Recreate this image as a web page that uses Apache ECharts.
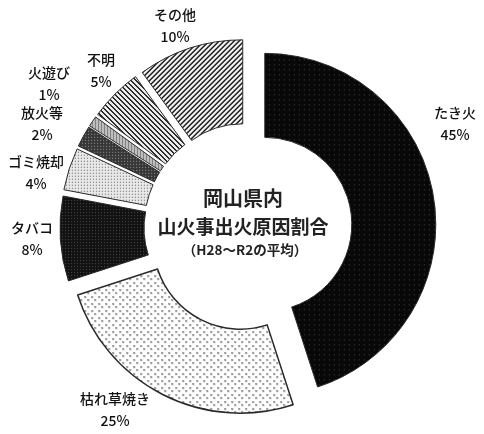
<!DOCTYPE html>
<html>
<head>
<meta charset="utf-8">
<script src="https://cdn.jsdelivr.net/npm/echarts@6/dist/echarts.min.js"></script>
<style>
html,body{margin:0;padding:0;background:#fff;}
#chart{width:484px;height:434px;}
</style>
</head>
<body>
<div id="chart"></div>
<script>
// ---- data ----
const categories = ['たき火', '枯れ草焼き', 'タバコ', 'ゴミ焼却', '放火等', '火遊び', '不明', 'その他'];
const values = [45, 25, 8, 4, 2, 1, 5, 10];
const titleLines = ['岡山県内', '山火事出火原因割合', '（H28～R2の平均）'];

// ---- label placement (text anchor positions, centre of each 2-line block) ----
const labelPos = [[455, 124], [115, 410], [32, 239], [36, 173], [42, 124], [49, 84], [101, 71], [175, 26]];

// ---- patterns ----
function makePattern(size, fn) {
  const c = document.createElement('canvas');
  c.width = size; c.height = size;
  const ctx = c.getContext('2d');
  const img = ctx.createImageData(size, size);
  for (let y = 0; y < size; y++) {
    for (let x = 0; x < size; x++) {
      const v = fn(x, y);
      const i = (y * size + x) * 4;
      img.data[i] = v; img.data[i + 1] = v; img.data[i + 2] = v; img.data[i + 3] = 255;
    }
  }
  ctx.putImageData(img, 0, 0);
  return { image: c, repeat: 'repeat' };
}
const patterns = [
  // たき火: black with faint dots
  makePattern(5, (x, y) => (x === 2 && y === 2) ? 70 : 8),
  // 枯れ草焼き: white with grey staggered dots
  makePattern(7, (x, y) => {
    if ((x === 1 || x === 2) && (y === 1 || y === 2)) return (x === 1 && y === 1) ? 95 : 160;
    if ((x === 4 || x === 5) && (y === 4 || y === 5)) return (x === 4 && y === 4) ? 95 : 160;
    return 255;
  }),
  // タバコ: very dark fine dots
  makePattern(3, (x, y) => (x === 1 && y === 1) ? 75 : 18),
  // ゴミ焼却: light fine checker
  makePattern(3, (x, y) => (x === 1 && y === 1) ? 100 : 232),
  // 放火等: dark grey crosshatch
  makePattern(3, (x, y) => (x === 1 && y === 1) ? 150 : 55),
  // 火遊び: light grey
  makePattern(3, (x, y) => (x === 1) ? 130 : 190),
  // 不明: "\" stripes
  makePattern(5, (x, y) => ((x - y + 10) % 5 < 2) ? 45 : 235),
  // その他: "/" stripes
  makePattern(5, (x, y) => ((x + y) % 5 < 2) ? 20 : 245)
];

const chart = echarts.init(document.getElementById('chart'), null, { renderer: 'canvas' });

const cx = 248, cy = 227;

const labelFont = '500 14px "Noto Sans CJK JP"';
const labelGraphics = categories.map((name, i) => ({
  type: 'text',
  x: labelPos[i][0],
  y: labelPos[i][1],
  style: {
    text: name + '\n' + values[i] + '%',
    font: labelFont,
    lineHeight: 22,
    fill: '#111',
    textAlign: 'center',
    textVerticalAlign: 'middle'
  }
}));

chart.setOption({
  animation: false,
  backgroundColor: '#ffffff',
  series: [{
    type: 'pie',
    center: [cx, cy],
    radius: [87, 171],
    startAngle: 90,
    clockwise: true,
    selectedMode: 'multiple',
    selectedOffset: 17,
    avoidLabelOverlap: false,
    emphasis: { disabled: true },
    itemStyle: { borderColor: '#222', borderWidth: 1 },
    select: { itemStyle: { borderColor: '#222', borderWidth: 1 } },
    label: { show: false },
    labelLine: { show: false },
    data: categories.map((name, i) => ({
      name: name,
      value: values[i],
      selected: true,
      itemStyle: { color: patterns[i], borderWidth: i === 1 ? 1.5 : 1, borderColor: '#2a2a2a' },
      select: { itemStyle: { color: patterns[i], borderWidth: i === 1 ? 1.5 : 1, borderColor: '#2a2a2a' } }
    }))
  }],
  graphic: labelGraphics.concat([
    { type: 'text', x: 243, y: 198, style: { text: titleLines[0], font: 'bold 20px "Noto Sans CJK JP"', fill: '#222', textAlign: 'center', textVerticalAlign: 'middle' } },
    { type: 'text', x: 243, y: 227, style: { text: titleLines[1], font: 'bold 19px "Noto Sans CJK JP"', fill: '#222', textAlign: 'center', textVerticalAlign: 'middle' } },
    { type: 'text', x: 245, y: 250, style: { text: titleLines[2], font: 'bold 13.5px "Noto Sans CJK JP"', fill: '#222', textAlign: 'center', textVerticalAlign: 'middle' } }
  ])
});
</script>
</body>
</html>
